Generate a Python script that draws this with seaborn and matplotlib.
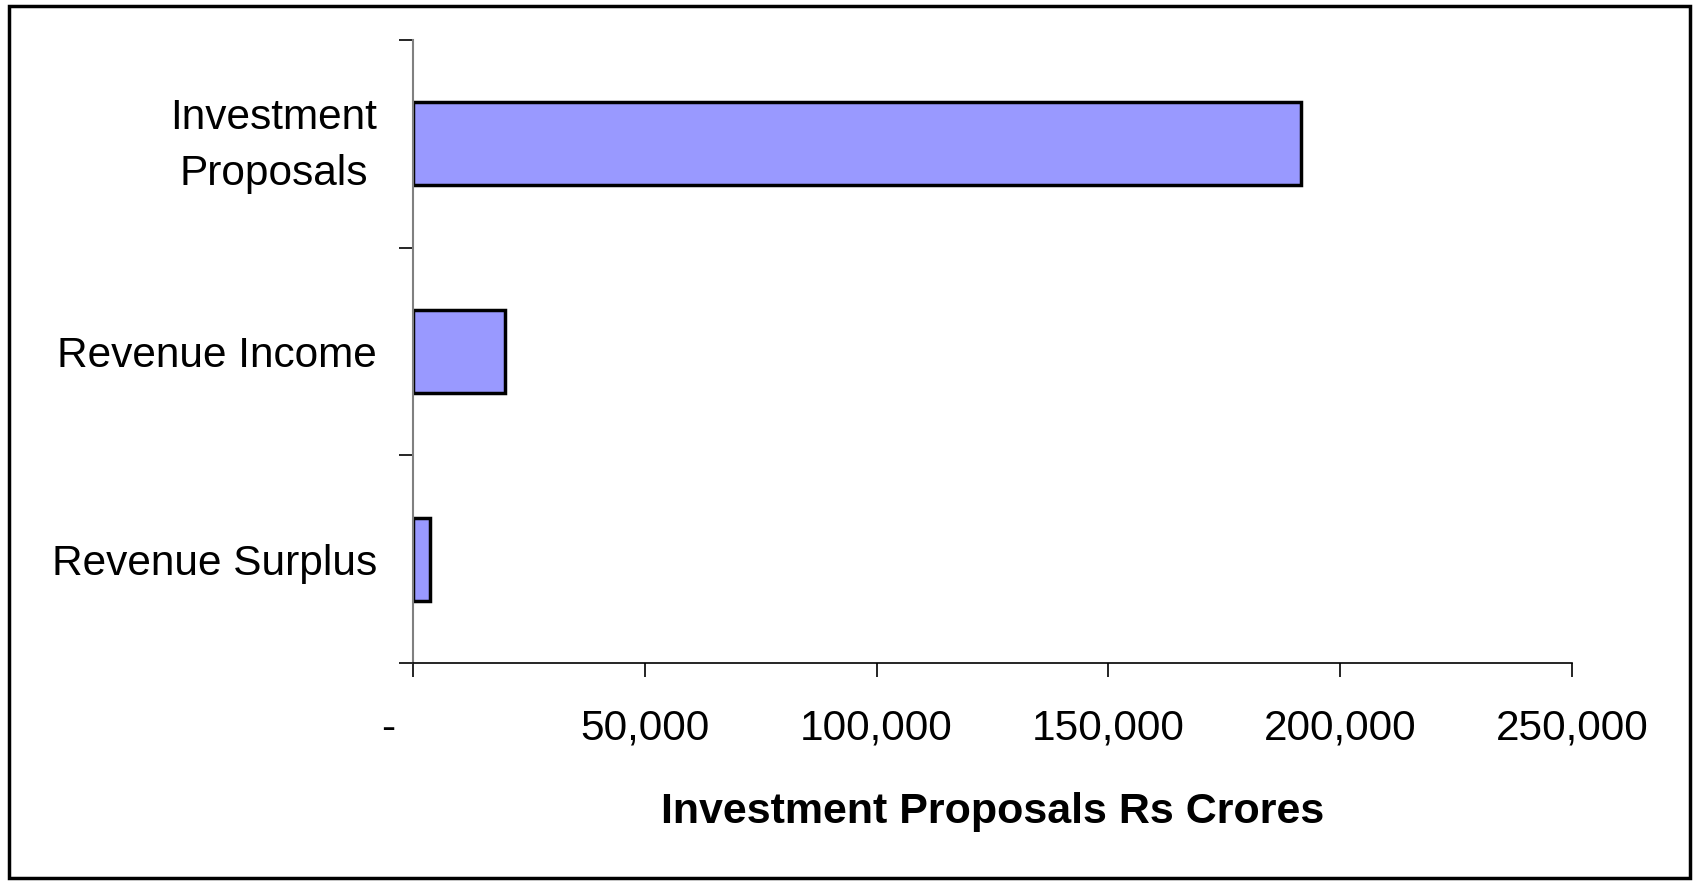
import seaborn as sns
import matplotlib.pyplot as plt
import pandas as pd
from matplotlib.patches import Rectangle
from matplotlib.transforms import ScaledTranslation

categories = ["Investment\nProposals", "Revenue Income", "Revenue Surplus"]
values = [191500, 19800, 3700]
xticks = [0, 50000, 100000, 150000, 200000, 250000]
xtick_labels = ["-    ", "50,000", "100,000", "150,000", "200,000", "250,000"]

df = pd.DataFrame({"category": categories, "value": values})

sns.set_style("white")
plt.rcParams["font.family"] = ["Liberation Sans", "DejaVu Sans"]
plt.rcParams["text.color"] = "black"
plt.rcParams["xtick.color"] = "black"
plt.rcParams["ytick.color"] = "black"
plt.rcParams["axes.labelcolor"] = "black"

fig = plt.figure(figsize=(16.96, 8.81), dpi=100)
ax = fig.add_axes([0.2435, 0.2474, 0.9269 - 0.2435, 0.9546 - 0.2474])

sns.barplot(data=df, x="value", y="category", orient="h", color="#9999FF",
            saturation=1, width=0.4, edgecolor="black", linewidth=2.5, ax=ax)

ax.set_xlim(0, 250000)
ax.set_ylim(2.5, -0.5)
ax.set_xticks(xticks)
ax.set_xticklabels(xtick_labels, fontsize=30.5)
ax.set_yticks([0, 1, 2])
ax.set_yticklabels(categories, fontsize=30.5)
ax.set_yticks([-0.5, 0.5, 1.5, 2.5], minor=True)
ax.tick_params(axis="y", which="major", length=0, pad=26)
ax.tick_params(axis="y", which="minor", length=10, width=1.2, color="black", left=True)
ax.tick_params(axis="x", which="major", length=10, width=1.2, color="black", pad=23, bottom=True)

# two-line label sits a bit higher in the original
for lbl in ax.get_yticklabels():
    lbl.set_multialignment("center")
    lbl.set_linespacing(1.5)
    if "\n" in lbl.get_text():
        lbl.set_transform(lbl.get_transform() + ScaledTranslation(0, 10 / 100, fig.dpi_scale_trans))

ax.set_ylabel("")
ax.set_xlabel("Investment Proposals Rs Crores", fontsize=31, fontweight="bold", labelpad=31)

sns.despine(ax=ax)
ax.spines["left"].set_color("#808080")
ax.spines["left"].set_linewidth(1.5)
ax.spines["bottom"].set_color("black")
ax.spines["bottom"].set_linewidth(1.2)

fig.patches.append(Rectangle((9 / 1696, 3 / 881), 1681 / 1696, 872 / 881,
                             transform=fig.transFigure, fill=False,
                             edgecolor="black", linewidth=2.5))

plt.savefig("out.png", dpi=100)
